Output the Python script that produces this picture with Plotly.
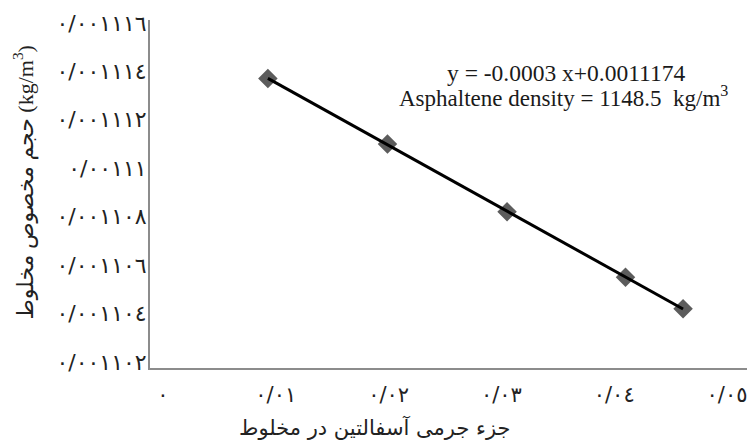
import plotly.graph_objects as go
import numpy as np

# Data
mass_fraction = [0.0093, 0.0199, 0.0305, 0.0410, 0.0461]
specific_volume = [0.0011137, 0.0011110, 0.0011082, 0.0011055, 0.0011042]

x_tick_vals = [0, 0.01, 0.02, 0.03, 0.04, 0.05]
x_tick_text = ["٠", "٠/٠١", "٠/٠٢", "٠/٠٣", "٠/٠٤", "٠/٠٥"]
y_tick_vals = [0.001102, 0.001104, 0.001106, 0.001108, 0.00111, 0.001112, 0.001114, 0.001116]
y_tick_text = ["٠/٠٠١١٠٢", "٠/٠٠١١٠٤", "٠/٠٠١١٠٦", "٠/٠٠١١٠٨", "٠/٠٠١١١",
               "٠/٠٠١١١٢", "٠/٠٠١١١٤", "٠/٠٠١١١٦"]

x_title = "جزء جرمی آسفالتین در مخلوط"
y_title = "حجم مخصوص مخلوط (kg/m<sup>3</sup>)"
eq_text = "y = -0.0003 x+0.0011174"
density_text = "Asphaltene density = 1148.5\u00a0 kg/m<sup>3</sup>"

# linear trend line from the data
slope, intercept = np.polyfit(mass_fraction, specific_volume, 1)
trend_x = [min(mass_fraction), max(mass_fraction)]
trend_y = [slope * v + intercept for v in trend_x]

fig = go.Figure()
fig.add_trace(go.Scatter(
    x=mass_fraction, y=specific_volume, mode="markers",
    marker=dict(symbol="diamond", size=15, color="#5c5c5c", line=dict(width=0)),
    showlegend=False,
))
fig.add_trace(go.Scatter(
    x=trend_x, y=trend_y, mode="lines",
    line=dict(color="#000000", width=3),
    showlegend=False,
))

fig.update_layout(
    width=747, height=447,
    margin=dict(l=150, r=0, t=20, b=79),
    plot_bgcolor="white", paper_bgcolor="white",
    xaxis=dict(
        range=[-0.00115, 0.05177],
        tickvals=x_tick_vals, ticktext=x_tick_text,
        showline=True, linecolor="#8c8c8c", linewidth=2,
        showgrid=False, zeroline=False,
        ticks="outside", ticklen=7, tickcolor="rgba(0,0,0,0)",
        ticklabeloverflow="allow",
        tickfont=dict(family="DejaVu Sans", size=21, color="#222222"),
    ),
    yaxis=dict(
        range=[0.00110175, 0.00111612],
        tickvals=y_tick_vals, ticktext=y_tick_text,
        showline=True, linecolor="#8c8c8c", linewidth=2,
        showgrid=False, zeroline=False,
        ticks="", ticklabelstandoff=-3,
        tickfont=dict(family="DejaVu Sans", size=22, color="#222222"),
    ),
    annotations=[
        dict(text=eq_text, xref="paper", yref="paper", x=0.697, y=0.848,
             xanchor="center", yanchor="middle", showarrow=False,
             font=dict(family="Liberation Serif", size=23.5, color="#1a1a1a")),
        dict(text=density_text, xref="paper", yref="paper", x=0.692, y=0.779,
             xanchor="center", yanchor="middle", showarrow=False,
             font=dict(family="Liberation Serif", size=23, color="#1a1a1a")),
        dict(text=x_title, xref="paper", yref="paper", x=0.377, y=-0.17,
             xanchor="center", yanchor="middle", showarrow=False,
             font=dict(family="DejaVu Sans", size=21, color="#222222")),
        dict(text=y_title, xref="paper", yref="paper", x=-0.212, y=0.534,
             xanchor="center", yanchor="middle", showarrow=False, textangle=-90,
             font=dict(family="Liberation Serif, DejaVu Sans", size=22, color="#222222")),
    ],
)

fig.write_html(
    "out.html",
    config={"displayModeBar": False},
    post_script="document.body.style.margin='0';document.body.style.overflow='hidden';",
)
